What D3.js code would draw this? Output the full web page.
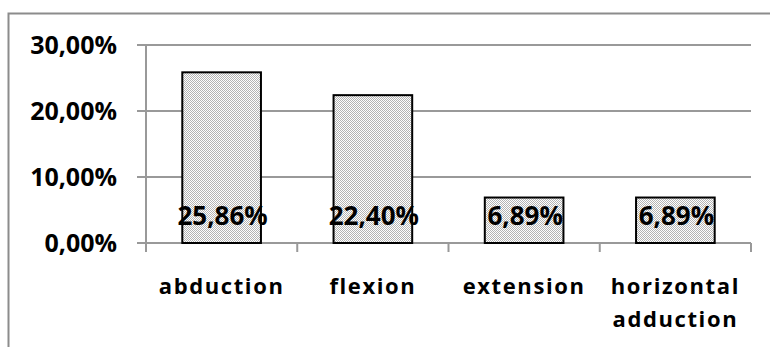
<!DOCTYPE html>
<html><head><meta charset="utf-8">
<script src="https://cdn.jsdelivr.net/npm/d3@7"></script>
<style>body{margin:0;background:#fff}svg{display:block}</style>
</head><body>
<script>
const categories = ["abduction", "flexion", "extension", "horizontal adduction"];
const categoryLines = [["abduction"], ["flexion"], ["extension"], ["horizontal", "adduction"]];
const values = [25.86, 22.40, 6.89, 6.89];
const valueLabels = ["25,86%", "22,40%", "6,89%", "6,89%"];
const yTicks = [0, 10, 20, 30];
const yTickLabels = ["0,00%", "10,00%", "20,00%", "30,00%"];

const W = 770, H = 347;
const svg = d3.select("body").append("svg").attr("width", W).attr("height", H);
const font = "'Open Sans', sans-serif";

const defs = svg.append("defs");
const pat = defs.append("pattern").attr("id", "dots").attr("patternUnits", "userSpaceOnUse")
  .attr("width", 2).attr("height", 2);
pat.append("rect").attr("width", 2).attr("height", 2).attr("fill", "#fff");
pat.append("rect").attr("width", 1).attr("height", 1).attr("fill", "#b4b4b4");
pat.append("rect").attr("x", 1).attr("y", 1).attr("width", 1).attr("height", 1).attr("fill", "#b4b4b4");

// outer frame
svg.append("rect").attr("x", 8.5).attr("y", 13.5).attr("width", 800).attr("height", 400)
  .attr("fill", "none").attr("stroke", "#8c8c8c").attr("stroke-width", 2);

const x = d3.scaleBand().domain(categories).range([146, 751]).paddingInner(0.48).paddingOuter(0.24);
const xc = d3.scaleBand().domain(categories).range([146, 751]);
const y = d3.scaleLinear().domain([0, 30]).range([243, 45]);

// gridlines
svg.append("g").selectAll("line").data(yTicks).join("line")
  .attr("x1", 137).attr("x2", 751).attr("y1", d => y(d)).attr("y2", d => y(d))
  .attr("stroke", "#999").attr("stroke-width", 2);

// y axis line
svg.append("line").attr("x1", 146).attr("x2", 146).attr("y1", y(30)).attr("y2", y(0))
  .attr("stroke", "#999").attr("stroke-width", 2);

// x ticks
const bounds = categories.map(c => xc(c)).concat([xc(categories[3]) + xc.bandwidth()]);
svg.append("g").selectAll("line").data(bounds).join("line")
  .attr("x1", d => d).attr("x2", d => d).attr("y1", y(0)).attr("y2", 252)
  .attr("stroke", "#999").attr("stroke-width", 2);

// y labels
svg.append("g").selectAll("text").data(yTicks).join("text")
  .attr("x", 117).attr("y", d => y(d)).attr("dy", "0.36em")
  .attr("text-anchor", "end").attr("font-family", font).attr("font-weight", "bold")
  .attr("font-size", 25).attr("fill", "#000")
  .text((d, i) => yTickLabels[i]);

// bars
svg.append("g").selectAll("rect").data(values).join("rect")
  .attr("x", (d, i) => x(categories[i])).attr("width", x.bandwidth())
  .attr("y", d => y(d)).attr("height", d => y(0) - y(d))
  .attr("fill", "url(#dots)").attr("stroke", "#000").attr("stroke-width", 2);

// value labels
svg.append("g").selectAll("text").data(values).join("text")
  .attr("x", (d, i) => xc(categories[i]) + xc.bandwidth() / 2 + 1)
  .attr("y", 225).attr("text-anchor", "middle")
  .attr("font-family", font).attr("font-weight", "bold").attr("font-size", 26).attr("fill", "#000")
  .text((d, i) => valueLabels[i]);

// category labels
const cl = svg.append("g").selectAll("text").data(categoryLines).join("text")
  .attr("x", (d, i) => xc(categories[i]) + xc.bandwidth() / 2)
  .attr("y", 294).attr("text-anchor", "middle")
  .attr("font-family", font).attr("font-weight", "bold").attr("font-size", 22)
  .attr("letter-spacing", 1.6).attr("fill", "#000");
cl.selectAll("tspan").data(d => d).join("tspan")
  .attr("x", function () { return d3.select(this.parentNode).attr("x"); })
  .attr("dy", (d, i) => i === 0 ? 0 : 33)
  .text(d => d);
</script>
</body></html>
